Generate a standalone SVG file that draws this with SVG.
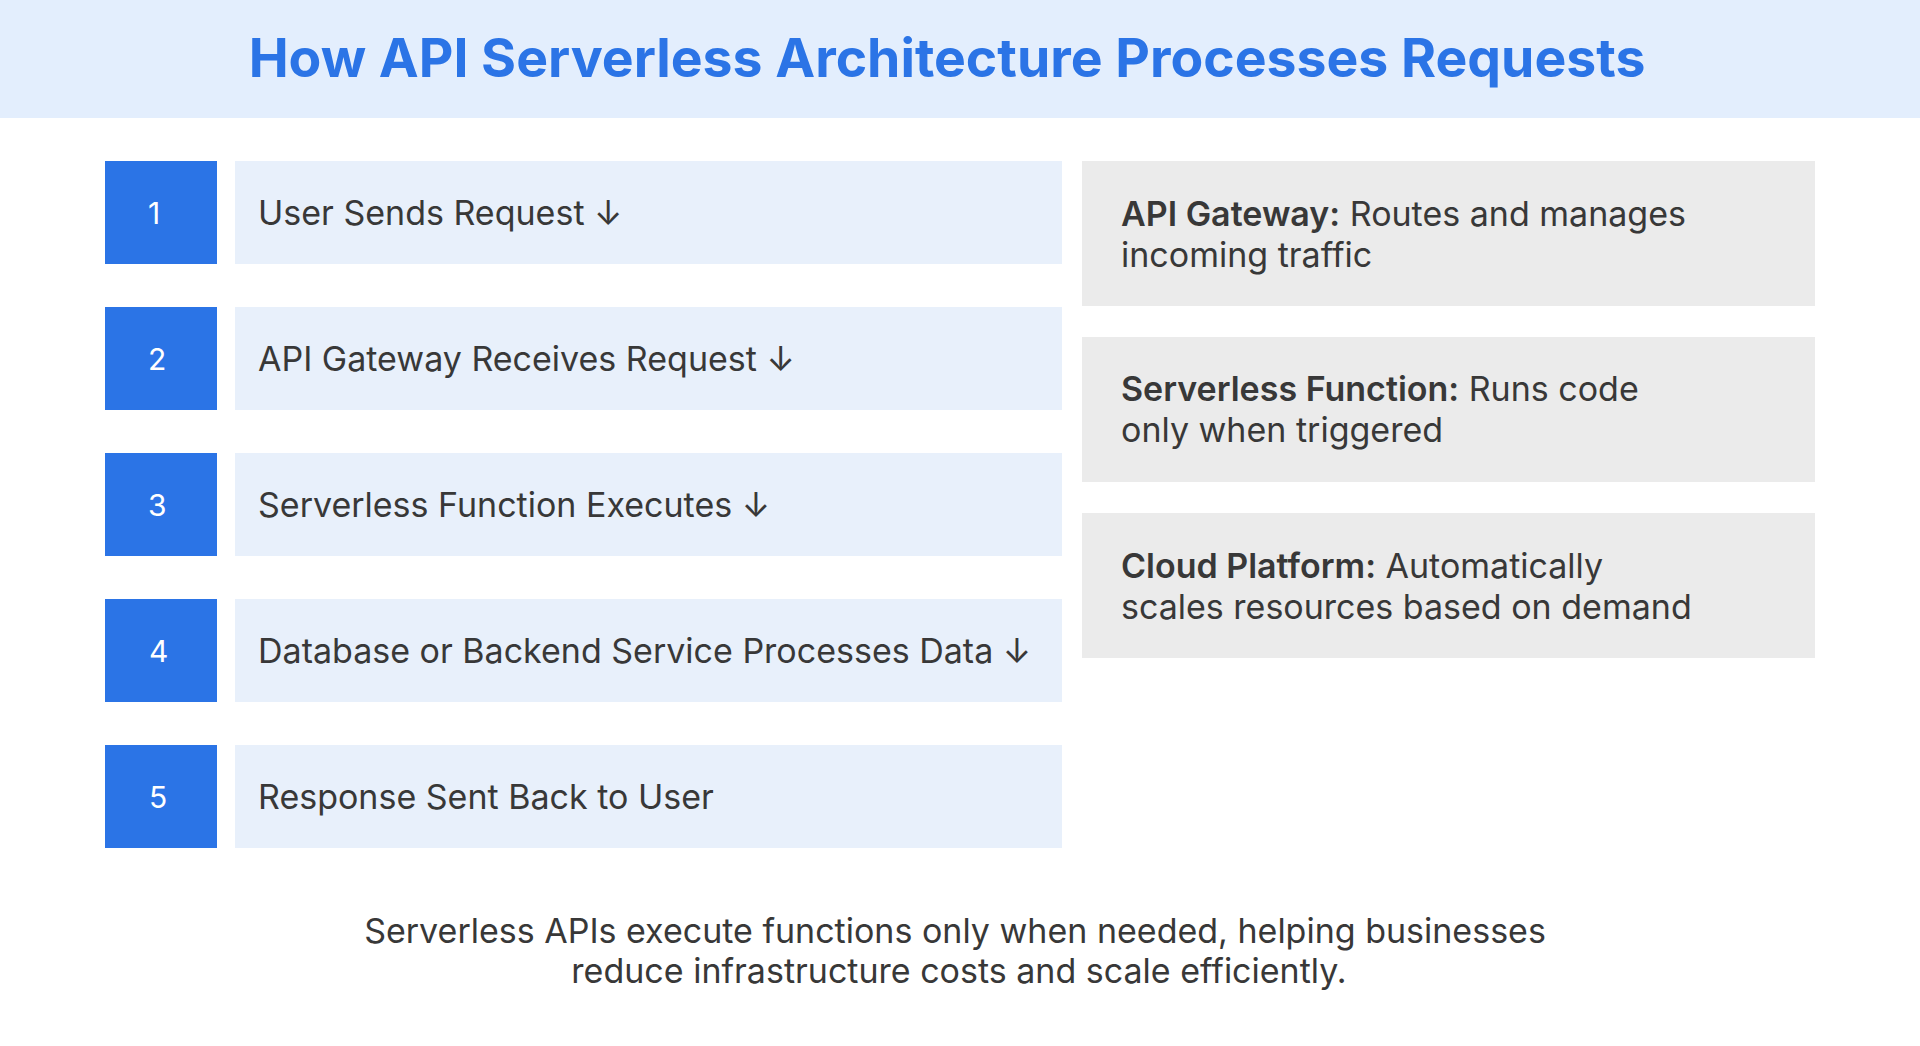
<svg xmlns="http://www.w3.org/2000/svg" width="1920" height="1046" viewBox="0 0 1920 1046">
<style>
  .num{fill:#2b74e6}
  .step{fill:#e8f0fb}
  .info{fill:#ebebeb}
  .t{font-family:Inter,"Noto Sans","Liberation Sans",sans-serif;fill:#383838;font-size:34px}
  .n{font-family:Inter,"Noto Sans","Liberation Sans",sans-serif;fill:#ffffff;font-size:30px}
  .b{font-weight:600}
</style>
<rect width="1920" height="1046" fill="#ffffff"/>
<g id="header">
  <rect x="0" y="0" width="1920" height="118" fill="#e3eefd"/>
  <text x="947" y="77" text-anchor="middle" font-family="Inter,'Noto Sans','Liberation Sans',sans-serif" font-size="53.5" font-weight="700" fill="#2b74e6">How API Serverless Architecture Processes Requests</text>
</g>
<g id="step1">
  <rect class="num" x="105" y="161" width="112" height="103"/>
  <text class="n" x="148" y="224">1</text>
  <rect class="step" x="235" y="161" width="827" height="103"/>
  <text class="t" x="258" y="225">User Sends Request ↓</text>
</g>
<g id="step2">
  <rect class="num" x="105" y="307" width="112" height="103"/>
  <text class="n" x="148" y="370">2</text>
  <rect class="step" x="235" y="307" width="827" height="103"/>
  <text class="t" x="258" y="371">API Gateway Receives Request ↓</text>
</g>
<g id="step3">
  <rect class="num" x="105" y="453" width="112" height="103"/>
  <text class="n" x="148" y="516">3</text>
  <rect class="step" x="235" y="453" width="827" height="103"/>
  <text class="t" x="258" y="517">Serverless Function Executes ↓</text>
</g>
<g id="step4">
  <rect class="num" x="105" y="599" width="112" height="103"/>
  <text class="n" x="149" y="662">4</text>
  <rect class="step" x="235" y="599" width="827" height="103"/>
  <text class="t" x="258" y="663">Database or Backend Service Processes Data ↓</text>
</g>
<g id="step5">
  <rect class="num" x="105" y="745" width="112" height="103"/>
  <text class="n" x="149" y="808">5</text>
  <rect class="step" x="235" y="745" width="827" height="103"/>
  <text class="t" x="258" y="809">Response Sent Back to User</text>
</g>
<g id="info1">
  <rect class="info" x="1082" y="161" width="733" height="145"/>
  <text class="t" x="1121" y="226"><tspan class="b">API Gateway:</tspan> Routes and manages</text>
  <text class="t" x="1121" y="267">incoming traffic</text>
</g>
<g id="info2">
  <rect class="info" x="1082" y="337" width="733" height="145"/>
  <text class="t" x="1121" y="401"><tspan class="b">Serverless Function:</tspan> Runs code</text>
  <text class="t" x="1121" y="442">only when triggered</text>
</g>
<g id="info3">
  <rect class="info" x="1082" y="513" width="733" height="145"/>
  <text class="t" x="1121" y="578"><tspan class="b">Cloud Platform:</tspan> Automatically</text>
  <text class="t" x="1121" y="619">scales resources based on demand</text>
</g>
<g id="footer">
  <text class="t" x="955" y="943" text-anchor="middle">Serverless APIs execute functions only when needed, helping businesses</text>
  <text class="t" x="959" y="983" text-anchor="middle">reduce infrastructure costs and scale efficiently.</text>
</g>
<g id="connectors"></g>
</svg>
